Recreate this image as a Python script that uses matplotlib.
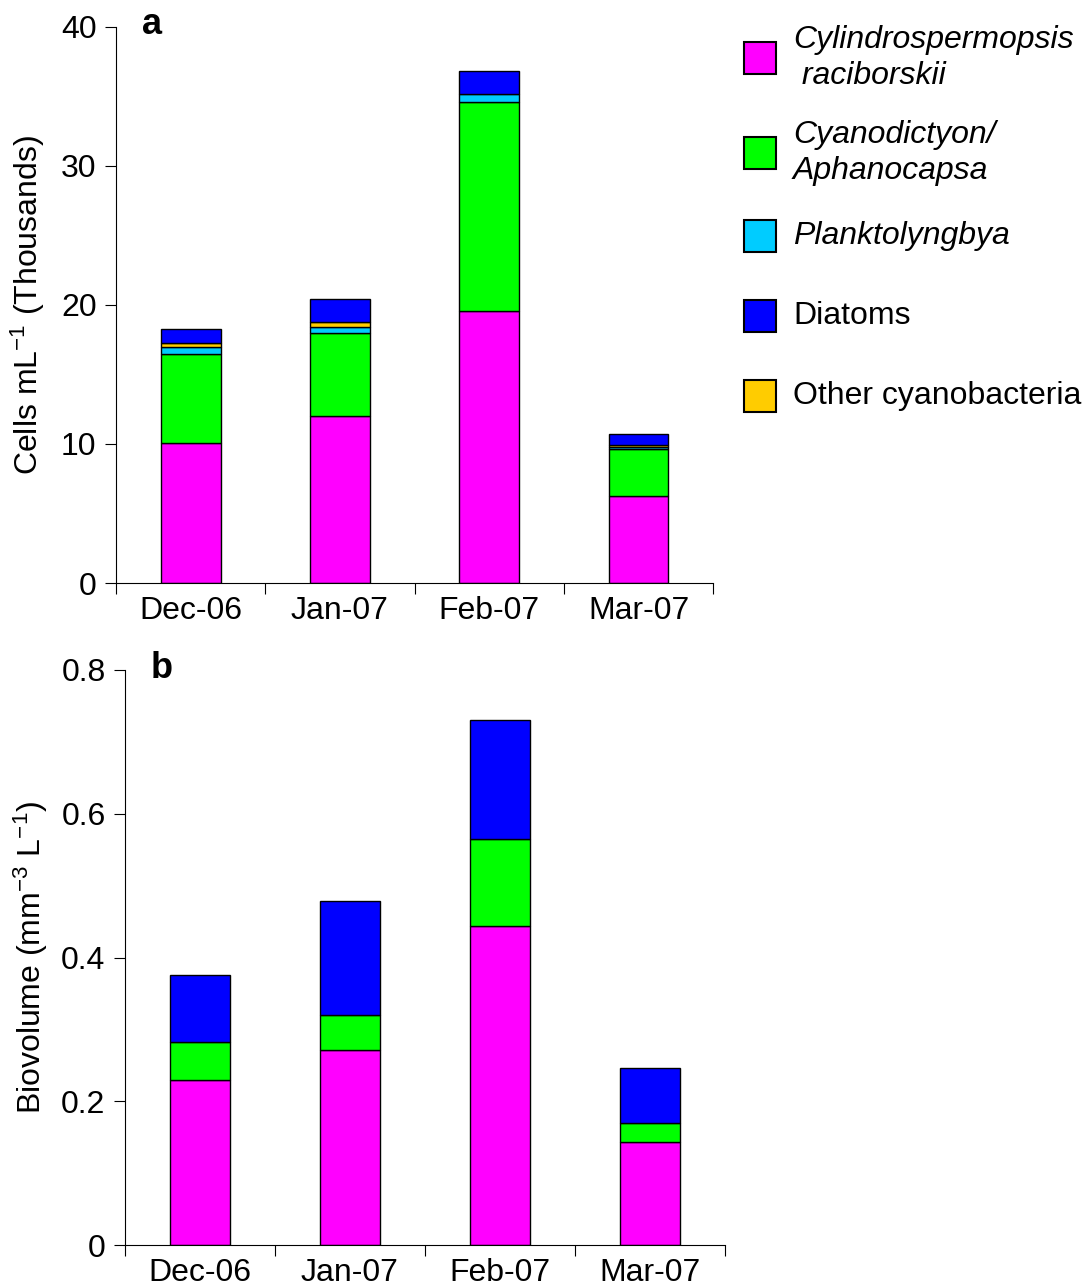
import numpy as np
import matplotlib.pyplot as plt
from matplotlib.patches import Rectangle

plt.rcParams['font.family'] = ['Liberation Sans', 'DejaVu Sans']
plt.rcParams['mathtext.fontset'] = 'custom'
plt.rcParams['mathtext.rm'] = 'Liberation Sans'
plt.rcParams['mathtext.it'] = 'Liberation Sans:italic'

months = ["Dec-06", "Jan-07", "Feb-07", "Mar-07"]

# cell counts, thousands per mL
cells_cylindro = [10.07, 12.0, 19.57, 6.26]
cells_cyanodict = [6.43, 5.96, 15.01, 3.40]
cells_plankto = [0.45, 0.44, 0.60, 0.15]
cells_other = [0.35, 0.38, 0.0, 0.15]
cells_diatoms = [0.97, 1.65, 1.65, 0.79]

# biovolume, mm3 per L
bio_cylindro = [0.230, 0.271, 0.444, 0.143]
bio_cyanodict = [0.052, 0.049, 0.121, 0.027]
bio_diatoms = [0.094, 0.159, 0.166, 0.076]

col_pink = "#FF00FF"
col_green = "#00FF00"
col_cyan = "#00CCFF"
col_blue = "#0000FF"
col_orange = "#FFCC00"

FS = 23

fig = plt.figure(figsize=(10.84, 12.85), dpi=100)
ax1 = fig.add_axes([0.107, 0.5463, 0.551, 0.4327])
ax2 = fig.add_axes([0.1153, 0.0311, 0.5535, 0.4475])

x = np.arange(len(months))
w = 0.4


def stack(ax, series):
    bottom = np.zeros(len(months))
    for vals, c in series:
        vals = np.array(vals)
        keep = vals > 0
        ax.bar(x[keep], vals[keep], w, bottom=bottom[keep], color=c,
               edgecolor="black", linewidth=1.0)
        bottom += vals


stack(ax1, [(cells_cylindro, col_pink), (cells_cyanodict, col_green),
            (cells_plankto, col_cyan), (cells_other, col_orange),
            (cells_diatoms, col_blue)])
stack(ax2, [(bio_cylindro, col_pink), (bio_cyanodict, col_green),
            (bio_diatoms, col_blue)])

for ax in (ax1, ax2):
    ax.spines["top"].set_visible(False)
    ax.spines["right"].set_visible(False)
    ax.set_xlim(-0.5, 3.5)
    ax.set_xticks(np.arange(-0.5, 4, 1))
    ax.set_xticklabels([])
    ax.set_xticks(x, minor=True)
    ax.set_xticklabels(months, minor=True)
    ax.tick_params(axis="x", which="major", length=8, direction="out")
    ax.tick_params(axis="x", which="minor", length=0, pad=9, labelsize=FS)
    ax.tick_params(axis="y", length=8, direction="out", labelsize=FS, pad=6)

ax1.set_ylim(0, 40)
ax1.set_yticks([0, 10, 20, 30, 40])
ax1.set_ylabel("Cells mL$^{\\mathrm{-1}}$ (Thousands)", fontsize=FS, labelpad=10)

ax2.set_ylim(0, 0.8)
ax2.set_yticks([0, 0.2, 0.4, 0.6, 0.8])
ax2.set_yticklabels(["0", "0.2", "0.4", "0.6", "0.8"])
ax2.set_ylabel("Biovolume (mm$^{\\mathrm{-3}}$ L$^{\\mathrm{-1}}$)", fontsize=FS, labelpad=8)

fig.text(152 / 1084, 1 - 25 / 1285, "a", fontsize=26, fontweight="bold", va="center", ha="center")
fig.text(162 / 1084, 1 - 668 / 1285, "b", fontsize=26, fontweight="bold", va="center", ha="center")

# legend drawn by hand, to the right of panel a
W, H = 1084, 1285
entries = [
    (col_pink, "Cylindrospermopsis\n raciborskii", "italic", 58),
    (col_green, "Cyanodictyon/\nAphanocapsa", "italic", 153),
    (col_cyan, "Planktolyngbya", "italic", 236),
    (col_blue, "Diatoms", "normal", 316),
    (col_orange, "Other cyanobacteria", "normal", 396),
]
for c, label, style, yc in entries:
    fig.add_artist(Rectangle((744 / W, 1 - (yc + 16) / H), 32 / W, 32 / H,
                             transform=fig.transFigure, facecolor=c,
                             edgecolor="black", linewidth=1.5))
    fig.text(793 / W, 1 - yc / H, label, fontsize=FS, fontstyle=style,
             va="center", ha="left", linespacing=1.3)

fig.savefig("out.png", dpi=100)
